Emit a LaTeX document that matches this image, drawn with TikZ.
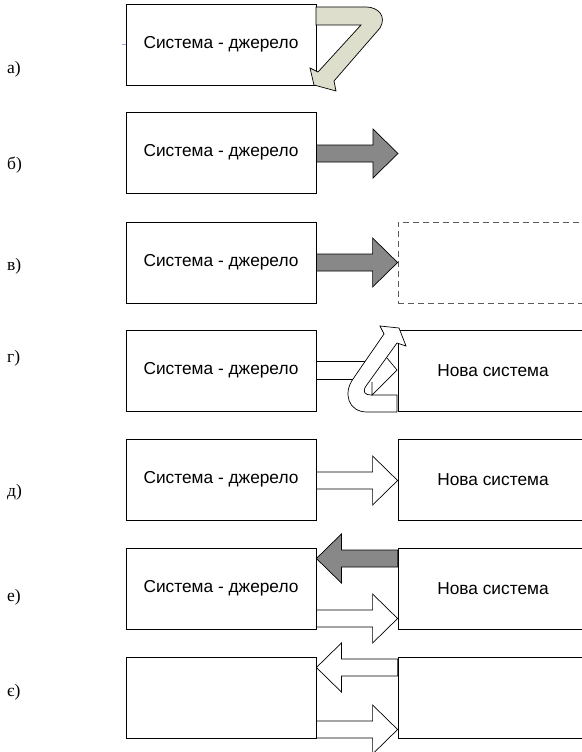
\documentclass[tikz,border=0pt]{standalone}
\usepackage{fontspec}
\setmainfont{Liberation Serif}
\newfontfamily\boxfont{Liberation Sans}
\usetikzlibrary{calc}

\definecolor{loopfill}{RGB}{221,223,204}
\definecolor{solidfill}{RGB}{136,136,136}
\definecolor{dashgray}{RGB}{90,90,90}
\definecolor{tickblue}{RGB}{150,170,210}

\tikzset{
  sysbox/.style={draw=black, line width=0.8pt, fill=white,
    minimum width=190pt, minimum height=81pt, inner sep=0pt,
    font=\boxfont\fontsize{17.3}{19}\selectfont},
  ghostbox/.style={sysbox, draw=dashgray, dash pattern=on 6pt off 4pt},
  tag/.style={font=\fontsize{17.5}{20}\selectfont, anchor=west, inner sep=0pt},
  grayarrow/.style={draw=black, line width=0.7pt, fill=solidfill, line join=miter},
  hollowarrow/.style={draw=black, line width=0.7pt, fill=white, line join=miter},
  looparrow/.style={draw=black, line width=0.7pt, fill=loopfill, line join=miter},
  bentarrow/.style={draw=black, line width=0.7pt, fill=white, line join=miter},
}

% block arrow: style, tail point, tip point (horizontal)
\newcommand\blockarrow[3]{%
  \path[#1] let \p1=#2, \p2=#3, \p3=($#3!25pt!#2$) in
    (\x1,\y1+8.5pt) -- (\x3,\y1+8.5pt) -- (\x3,\y1+24.5pt) -- (\x2,\y2)
    -- (\x3,\y1-24.5pt) -- (\x3,\y1-8.5pt) -- (\x1,\y1-8.5pt) -- cycle;}

\begin{document}
\begin{tikzpicture}[x=1pt,y=-1pt]
\useasboundingbox (0,0) rectangle (581,752);

% row labels
\node[tag] (lab-a) at (7,69)  {а)};
\node[tag] (lab-b) at (7,165) {б)};
\node[tag] (lab-v) at (7,266) {в)};
\node[tag] (lab-g) at (7,358) {г)};
\node[tag] (lab-d) at (7,492) {д)};
\node[tag] (lab-e) at (7,597) {е)};
\node[tag] (lab-ye) at (7,692) {є)};

% а) source system looping back on itself
\draw[tickblue, line width=1.5pt] (122,44.5) -- (126,44.5);
\node[sysbox] (a1) at (221,44.5) {Система - джерело};
\path[looparrow] (316,7) -- (366,7) .. controls (378,7) and (387,16) .. (380,28)
  -- (334,81) -- (336,91) -- (314,85) -- (310,68) -- (318,72) -- (361,25)
  -- (316,25) -- cycle;

% б) output into the environment
\node[sysbox] (b1) at (221,152.5) {Система - джерело};
\coordinate (b-out) at (398,153.5);
\blockarrow{grayarrow}{(b1.east |- b-out)}{(b-out)}

% в) output towards a system not yet formed
\node[sysbox] (v1) at (221,262.5) {Система - джерело};
\node[ghostbox] (v2) at (493,262.5) {};
\blockarrow{grayarrow}{(v1.east)}{(v2.west)}

% г) output turning back from the new system
\node[sysbox] (g1) at (221,370.5) {Система - джерело};
\node[sysbox] (g2) at (493,370.5) {Нова система};
\draw[hollowarrow] ($(g1.east)+(0,-9)$) rectangle ($(g1.east)+(52,9)$);
\path[bentarrow] (380,326) -- (399,328) -- (406,346) -- (397,343) -- (366,386)
  .. controls (362,392) and (365,395) .. (371,395) -- (397,395) -- (397,412)
  -- (367,412) .. controls (348,412) and (343,393) .. (353,379) -- (384,334) -- cycle;
\draw[line width=0.7pt] (372,382) -- (372,395) -- (397,370) -- (387,358);

% д) direct transfer
\node[sysbox] (d1) at (221,479.5) {Система - джерело};
\node[sysbox] (d2) at (493,479.5) {Нова система};
\blockarrow{hollowarrow}{($(d1.east)+(0,1)$)}{($(d2.west)+(0,1)$)}

% е) transfer with feedback
\node[sysbox] (e1) at (221,588.5) {Система - джерело};
\node[sysbox] (e2) at (493,588.5) {Нова система};
\blockarrow{grayarrow}{($(e2.west)+(0,-30)$)}{($(e1.east)+(0,-30)$)}
\blockarrow{hollowarrow}{($(e1.east)+(0,30)$)}{($(e2.west)+(0,30)$)}

% є) mutual exchange
\node[sysbox] (ye1) at (221,697.5) {};
\node[sysbox] (ye2) at (493,697.5) {};
\blockarrow{hollowarrow}{($(ye2.west)+(0,-30)$)}{($(ye1.east)+(0,-30)$)}
\blockarrow{hollowarrow}{($(ye1.east)+(0,32)$)}{($(ye2.west)+(0,32)$)}
\end{tikzpicture}
\end{document}
